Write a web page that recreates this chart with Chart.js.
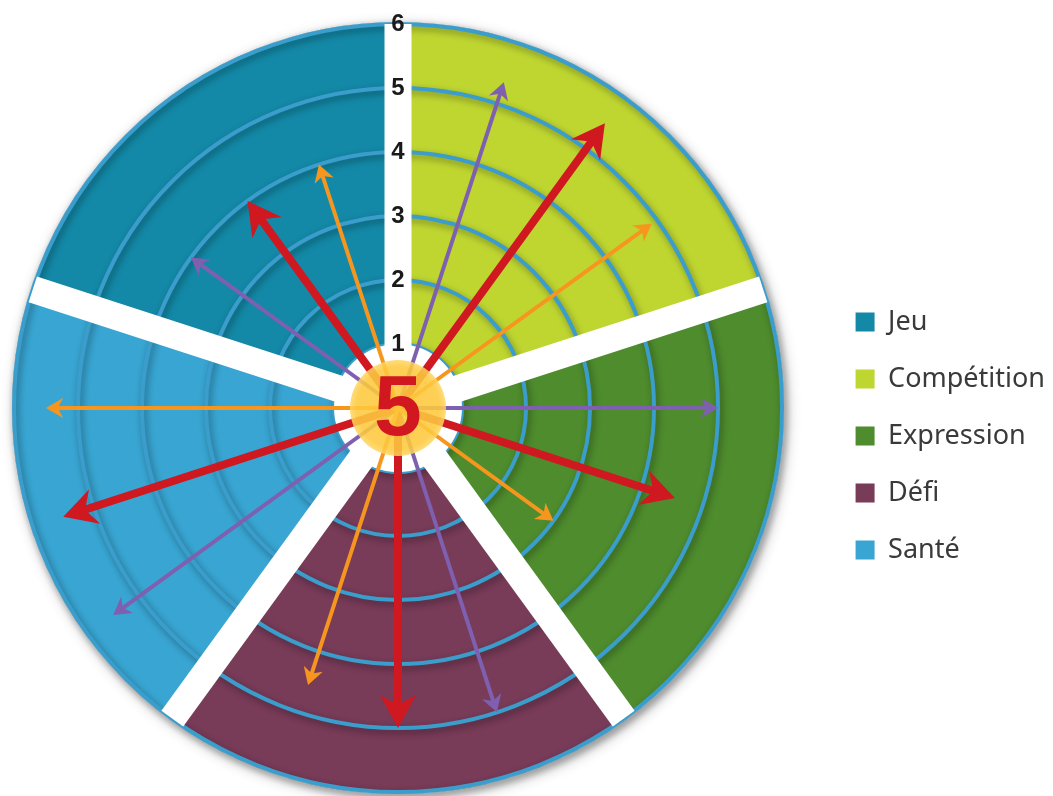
<!DOCTYPE html>
<html lang="fr">
<head>
<meta charset="UTF-8">
<meta name="viewport" content="width=device-width, initial-scale=1.0">
<title>Roue des motivations</title>
<script src="https://cdn.jsdelivr.net/npm/chart.js@4.4.1/dist/chart.umd.min.js"></script>
<style>
  html, body { margin: 0; padding: 0; background: #fff; }
  #wrap { width: 1053px; height: 796px; position: relative; }
</style>
</head>
<body>
<div id="wrap"><canvas id="roue"></canvas></div>

<script>
  // categories, in legend order
  const categories = ['Jeu', 'Compétition', 'Expression', 'Défi', 'Santé'];
  const sectorValues = [6, 6, 6, 6, 6];
  const sectorColors = ['#1389a7', '#bfd631', '#4e8c2d', '#783b58', '#38a5d2'];

  // arrows, one value per category
  const purpleArrows = [4, 5.35, 5, 5, 5.5];
  const redArrows = [4, 5.5, 4.55, 5, 5.5];
  const orangeArrows = [4, 4.9, 3, 4.55, 5.5];
  const centerScore = '5';

  // the wheel starts at 12 o'clock with Compétition, Jeu closes it
  const order = [1, 2, 3, 4, 0];

  const arrowSets = [
    { values: purpleArrows, color: '#7f5fb0', step: 1, heavy: false },
    { values: redArrows, color: '#cf1820', step: 2, heavy: true },
    { values: orangeArrows, color: '#f7961f', step: 3, heavy: false }
  ];

  function drawArrow(ctx, x0, y0, x1, y1, color, heavy) {
    const shaft = heavy ? 8 : 4;
    const headLen = heavy ? 33 : 17;
    const headHalf = heavy ? 18 : 10;
    const notch = heavy ? 10 : 5;
    const a = Math.atan2(y1 - y0, x1 - x0);
    const ux = Math.cos(a), uy = Math.sin(a);
    const px = -uy, py = ux;
    const bx = x1 - ux * headLen, by = y1 - uy * headLen;
    const nx = bx + ux * notch, ny = by + uy * notch;
    ctx.strokeStyle = color;
    ctx.lineWidth = shaft;
    ctx.lineCap = 'butt';
    ctx.beginPath();
    ctx.moveTo(x0, y0);
    ctx.lineTo(nx + ux * 2, ny + uy * 2);
    ctx.stroke();
    ctx.fillStyle = color;
    ctx.beginPath();
    ctx.moveTo(x1, y1);
    ctx.lineTo(bx + px * headHalf, by + py * headHalf);
    ctx.lineTo(nx, ny);
    ctx.lineTo(bx - px * headHalf, by - py * headHalf);
    ctx.closePath();
    ctx.fill();
  }

  const wheelPlugin = {
    id: 'wheel',
    afterLayout(chart) {
      // the legend sits a bit further right than its layout box
      const lg = chart.legend;
      if (lg) { lg.left += 28; lg.right += 28; }
    },
    beforeDatasetsDraw(chart) {
      const s = chart.scales.r, ctx = chart.ctx;
      const R = s.getDistanceFromCenterForValue(s.max);
      ctx.save();
      ctx.beginPath();
      ctx.arc(s.xCenter, s.yCenter, R + 2, 0, 2 * Math.PI);
      ctx.fillStyle = '#fff';
      ctx.shadowColor = 'rgba(0,0,0,0.3)';
      ctx.shadowBlur = 14;
      ctx.shadowOffsetX = 3;
      ctx.shadowOffsetY = 4;
      ctx.fill();
      ctx.restore();
    },
    afterDatasetsDraw(chart) {
      const s = chart.scales.r, ctx = chart.ctx;
      const xc = s.xCenter, yc = s.yCenter;
      const R = s.getDistanceFromCenterForValue(s.max);
      ctx.save();
      // soft shade under each ring
      ctx.strokeStyle = '#3b9dcb';
      ctx.lineWidth = 4;
      ctx.shadowColor = 'rgba(0,0,0,0.4)';
      ctx.shadowBlur = 7;
      ctx.shadowOffsetX = 2;
      ctx.shadowOffsetY = 3;
      s.ticks.forEach(t => {
        if (t.value <= 0) return;
        ctx.beginPath();
        ctx.arc(xc, yc, s.getDistanceFromCenterForValue(t.value), 0, 2 * Math.PI);
        ctx.stroke();
      });
      ctx.restore();

      // white gaps between the sectors
      ctx.save();
      ctx.strokeStyle = '#fff';
      ctx.lineWidth = 27;
      ctx.lineCap = 'butt';
      for (let i = 0; i < chart.data.labels.length; i++) {
        const a = s.getIndexAngle(i) - Math.PI / 2;
        ctx.beginPath();
        ctx.moveTo(xc, yc);
        ctx.lineTo(xc + Math.cos(a) * R, yc + Math.sin(a) * R);
        ctx.stroke();
      }
      // white hub
      ctx.beginPath();
      ctx.arc(xc, yc, s.getDistanceFromCenterForValue(1), 0, 2 * Math.PI);
      ctx.fillStyle = '#fff';
      ctx.fill();
      ctx.restore();
    },
    afterDraw(chart) {
      const s = chart.scales.r, ctx = chart.ctx;
      const xc = s.xCenter, yc = s.yCenter;
      const n = chart.data.labels.length;
      const span = 2 * Math.PI / n;
      ctx.save();
      arrowSets.forEach(set => {
        order.forEach((cat, i) => {
          const a = s.getIndexAngle(i) + set.step * span / 4 - Math.PI / 2;
          const d = s.getDistanceFromCenterForValue(set.values[cat]);
          drawArrow(ctx, xc, yc, xc + Math.cos(a) * d, yc + Math.sin(a) * d, set.color, set.heavy);
        });
      });

      // yellow hub with the score
      const g = ctx.createRadialGradient(xc, yc, 5, xc, yc, 48);
      g.addColorStop(0, 'rgba(253,200,60,0.9)');
      g.addColorStop(0.85, 'rgba(253,201,62,0.88)');
      g.addColorStop(1, 'rgba(255,214,100,0.85)');
      ctx.beginPath();
      ctx.arc(xc, yc, 48, 0, 2 * Math.PI);
      ctx.fillStyle = g;
      ctx.fill();
      ctx.fillStyle = '#d1171f';
      ctx.font = "bold 86px 'Liberation Sans', Arial, sans-serif";
      ctx.textAlign = 'center';
      ctx.textBaseline = 'middle';
      ctx.fillText(centerScore, xc, yc + 3);
      ctx.restore();
    }
  };

  new Chart(document.getElementById('roue'), {
    type: 'polarArea',
    data: {
      labels: order.map(i => categories[i]),
      datasets: [{
        data: order.map(i => sectorValues[i]),
        backgroundColor: order.map(i => sectorColors[i]),
        borderWidth: 0
      }]
    },
    options: {
      responsive: true,
      maintainAspectRatio: false,
      animation: false,
      layout: { padding: { top: 24, bottom: 4, left: 0, right: 26 } },
      plugins: {
        legend: {
          position: 'right',
          align: 'center',
          title: { display: true, text: ' ', padding: { top: 16, bottom: 16 }, font: { size: 20 } },
          labels: {
            boxWidth: 19,
            boxHeight: 19,
            padding: 30,
            color: '#3a3a3a',
            font: { family: "'Noto Sans', sans-serif", size: 27 },
            sort: (a, b) => categories.indexOf(a.text) - categories.indexOf(b.text)
          }
        },
        tooltip: { enabled: false }
      },
      scales: {
        r: {
          min: 0,
          max: 6,
          startAngle: 0,
          ticks: {
            z: 1,
            stepSize: 1,
            color: '#1a1a1a',
            showLabelBackdrop: false,
            backdropPadding: { top: -12, bottom: -12, left: 0, right: 0 },
            font: { family: "'Liberation Sans', Arial, sans-serif", size: 24, weight: 'bold' }
          },
          grid: { color: '#3b9dcb', lineWidth: 4, circular: true },
          angleLines: { display: false },
          pointLabels: { display: false }
        }
      }
    },
    plugins: [wheelPlugin]
  });
</script>
</body>
</html>
